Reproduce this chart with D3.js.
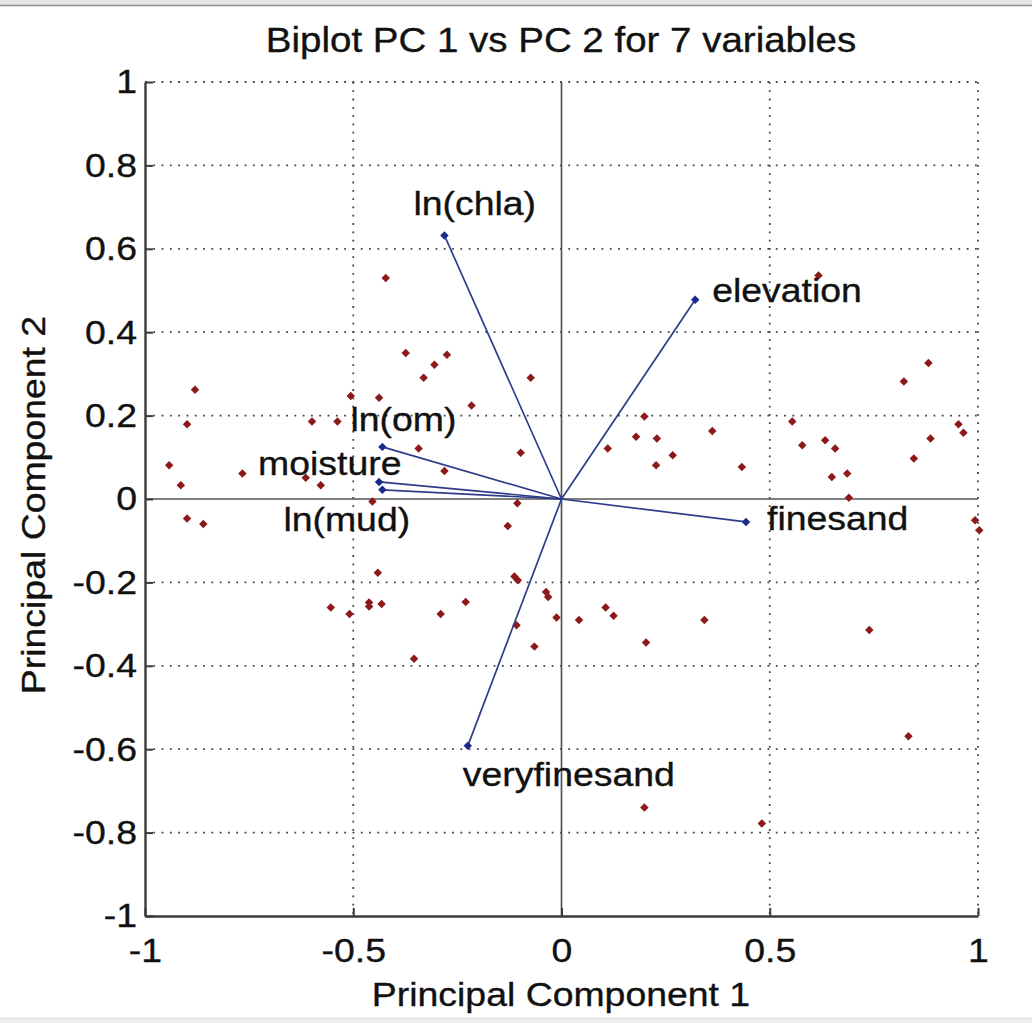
<!DOCTYPE html>
<html>
<head>
<meta charset="utf-8">
<script src="https://cdn.jsdelivr.net/npm/d3@7"></script>
<style>
  html, body { margin: 0; padding: 0; background: #ffffff; }
  svg { display: block; }
  text { font-family: "Liberation Sans", Arial, Helvetica, sans-serif; fill: #111; stroke: #111; stroke-width: 0.35px; }
</style>
</head>
<body>
<svg id="chart" width="1032" height="1023"></svg>
<script>
// ---------------- data ----------------
const title = "Biplot PC 1 vs PC 2 for 7 variables";
const xLabel = "Principal Component 1";
const yLabel = "Principal Component 2";

const xTicks = [-1, -0.5, 0, 0.5, 1];
const xTickLabels = ["-1", "-0.5", "0", "0.5", "1"];
const yTicks = [-1, -0.8, -0.6, -0.4, -0.2, 0, 0.2, 0.4, 0.6, 0.8, 1];
const yTickLabels = ["-1", "-0.8", "-0.6", "-0.4", "-0.2", "0", "0.2", "0.4", "0.6", "0.8", "1"];

// variable loadings (arrows)
const varNames = ["ln(chla)", "elevation", "ln(om)", "moisture", "ln(mud)", "finesand", "veryfinesand"];
const loadPC1 = [-0.281, 0.321, -0.430, -0.438, -0.430, 0.443, -0.225];
const loadPC2 = [0.632, 0.478, 0.125, 0.041, 0.022, -0.055, -0.592];

// observation scores
const scorePC1 = [
  -0.422, -0.374, -0.275, -0.305, -0.331, -0.074, -0.880, -0.506, -0.438, -0.216,
  -0.899, -0.599, -0.538, -0.343, -0.098, -0.942, -0.766, -0.281, -0.914, -0.578,
  -0.614, -0.454, -0.106,
   0.617,  0.822,  0.881,  0.199,  0.554,  0.953,  0.965,  0.362,  0.179,  0.229,
   0.886,  0.111,  0.633,  0.578,  0.657,  0.267,  0.227,  0.433,  0.846,  0.649,
   0.686,  0.690,
  -0.899, -0.860, -0.129, -0.441, -0.113, -0.105, -0.037, -0.032, -0.012, -0.554,
  -0.509, -0.462, -0.462, -0.432, -0.230, -0.290, -0.108, -0.065, -0.354,
   0.993,  1.003,  0.042,  0.106,  0.125,  0.203,  0.343,  0.739,  0.833,  0.199,
   0.481
];
const scorePC2 = [
   0.530,  0.350,  0.346,  0.322,  0.291,  0.291,  0.262,  0.247,  0.243,  0.224,
   0.179,  0.186,  0.186,  0.121,  0.111,  0.081,  0.061,  0.067,  0.033,  0.033,
   0.051, -0.006, -0.010,
   0.536,  0.282,  0.326,  0.198,  0.186,  0.179,  0.159,  0.163,  0.149,  0.145,
   0.145,  0.121,  0.141,  0.129,  0.121,  0.105,  0.081,  0.077,  0.097,  0.053,
   0.061,  0.003,
  -0.047, -0.060, -0.065, -0.177, -0.186, -0.195, -0.223, -0.235, -0.284, -0.260,
  -0.276, -0.248, -0.258, -0.252, -0.247, -0.276, -0.303, -0.354, -0.383,
  -0.051, -0.075, -0.290, -0.260, -0.280, -0.344, -0.290, -0.314, -0.569, -0.740,
  -0.778
];

// ---------------- layout / style ----------------
const svg = d3.select("#chart");
const W = 1032, H = 1023;
const plot = { left: 145, right: 978, top: 82, bottom: 916 };
const FONT = 34, SX = 1.1;
const labelOffsets = [ // pixel offsets of label start/baseline from arrow tip
  [-31, -20], [17, 2], [-32, -16], [-121, -7], [-99, 41], [21, 8], [-5, 40]
];

const x = d3.scaleLinear().domain([-1, 1]).range([plot.left, plot.right]);
const y = d3.scaleLinear().domain([-1, 1]).range([plot.bottom, plot.top]);

// window frame bands
svg.append("rect").attr("x", 0).attr("y", 0).attr("width", W).attr("height", 6).attr("fill", "#e6e6e6");
svg.append("line").attr("x1", 0).attr("x2", W).attr("y1", 5.5).attr("y2", 5.5).attr("stroke", "#8c8c8c").attr("stroke-width", 1.5);
svg.append("rect").attr("x", 0).attr("y", 1018).attr("width", W).attr("height", 5).attr("fill", "#efefef");
svg.append("line").attr("x1", 0).attr("x2", W).attr("y1", 1018).attr("y2", 1018).attr("stroke", "#d8d8d8");

// dotted grid
const grid = svg.append("g");
grid.selectAll("line.gx").data(xTicks.filter(v => v !== 0 && v !== -1)).enter().append("line")
  .attr("x1", d => x(d)).attr("x2", d => x(d)).attr("y1", plot.top).attr("y2", plot.bottom)
  .attr("stroke", "#444").attr("stroke-width", 1.8).attr("stroke-dasharray", "1.8,6.5");
grid.selectAll("line.gy").data(yTicks.filter(v => v !== 0 && v !== -1)).enter().append("line")
  .attr("y1", d => y(d)).attr("y2", d => y(d)).attr("x1", plot.left).attr("x2", plot.right)
  .attr("stroke", "#444").attr("stroke-width", 1.8).attr("stroke-dasharray", "1.8,6.5");

// zero lines
svg.append("line").attr("x1", x(0)).attr("x2", x(0)).attr("y1", plot.top).attr("y2", plot.bottom)
  .attr("stroke", "#555").attr("stroke-width", 1.7);
svg.append("line").attr("x1", plot.left).attr("x2", plot.right).attr("y1", y(0)).attr("y2", y(0))
  .attr("stroke", "#555").attr("stroke-width", 1.7);

// axes
const yAxis = d3.axisLeft(y).tickValues(yTicks).tickFormat((d, i) => yTickLabels[i])
  .tickSizeInner(-8).tickSizeOuter(0).tickPadding(8);
const xAxis = d3.axisBottom(x).tickValues(xTicks).tickFormat((d, i) => xTickLabels[i])
  .tickSizeInner(-8).tickSizeOuter(0).tickPadding(20);

const gy = svg.append("g").attr("transform", `translate(${plot.left},0)`).call(yAxis);
const gx = svg.append("g").attr("transform", `translate(0,${plot.bottom})`).call(xAxis);
[gx, gy].forEach(g => {
  g.select(".domain").attr("stroke", "#3a3a3a").attr("stroke-width", 2.4);
  g.selectAll(".tick line").attr("stroke", "#3a3a3a").attr("stroke-width", 2);
  g.selectAll(".tick text").attr("font-size", FONT).attr("fill", "#111")
    .attr("font-family", "Liberation Sans, Arial, sans-serif");
});
gy.selectAll(".tick text").attr("transform", `scale(${SX},1)`).attr("x", -8 / SX);
gx.selectAll(".tick text").attr("transform", `scale(${SX},1)`).attr("dy", "0.71em").attr("y", 22);

// title and axis labels
svg.append("text").attr("text-anchor", "middle").attr("font-size", 35)
  .attr("transform", `translate(561,52) scale(${SX},1)`).text(title);
svg.append("text").attr("text-anchor", "middle").attr("font-size", FONT)
  .attr("transform", `translate(561,1006) scale(${SX},1)`).text(xLabel);
svg.append("text").attr("text-anchor", "middle").attr("font-size", FONT)
  .attr("transform", `translate(45,505) rotate(-90) scale(${SX},1)`).text(yLabel);

// scores (red points)
const scores = scorePC1.map((v, i) => ({ pc1: v, pc2: scorePC2[i] }));
svg.append("g").selectAll("rect").data(scores).enter().append("rect")
  .attr("x", -3).attr("y", -3).attr("width", 6).attr("height", 6)
  .attr("transform", d => `translate(${x(d.pc1)},${y(d.pc2)}) rotate(45)`)
  .attr("fill", "#8c1a1a");

// loadings (blue arrows)
const loads = varNames.map((n, i) => ({ name: n, pc1: loadPC1[i], pc2: loadPC2[i], off: labelOffsets[i] }));
const ga = svg.append("g");
ga.selectAll("line").data(loads).enter().append("line")
  .attr("x1", x(0)).attr("y1", y(0))
  .attr("x2", d => x(d.pc1)).attr("y2", d => y(d.pc2))
  .attr("stroke", "#2e3c8a").attr("stroke-width", 1.7);
ga.selectAll("rect").data(loads).enter().append("rect")
  .attr("x", -3).attr("y", -3).attr("width", 6).attr("height", 6)
  .attr("transform", d => `translate(${x(d.pc1)},${y(d.pc2)}) rotate(45)`)
  .attr("fill", "#1a2a8c");
ga.selectAll("text").data(loads).enter().append("text")
  .attr("font-size", FONT).attr("text-anchor", "start")
  .attr("transform", d => `translate(${x(d.pc1) + d.off[0]},${y(d.pc2) + d.off[1]}) scale(${SX},1)`)
  .text(d => d.name);
</script>
</body>
</html>
